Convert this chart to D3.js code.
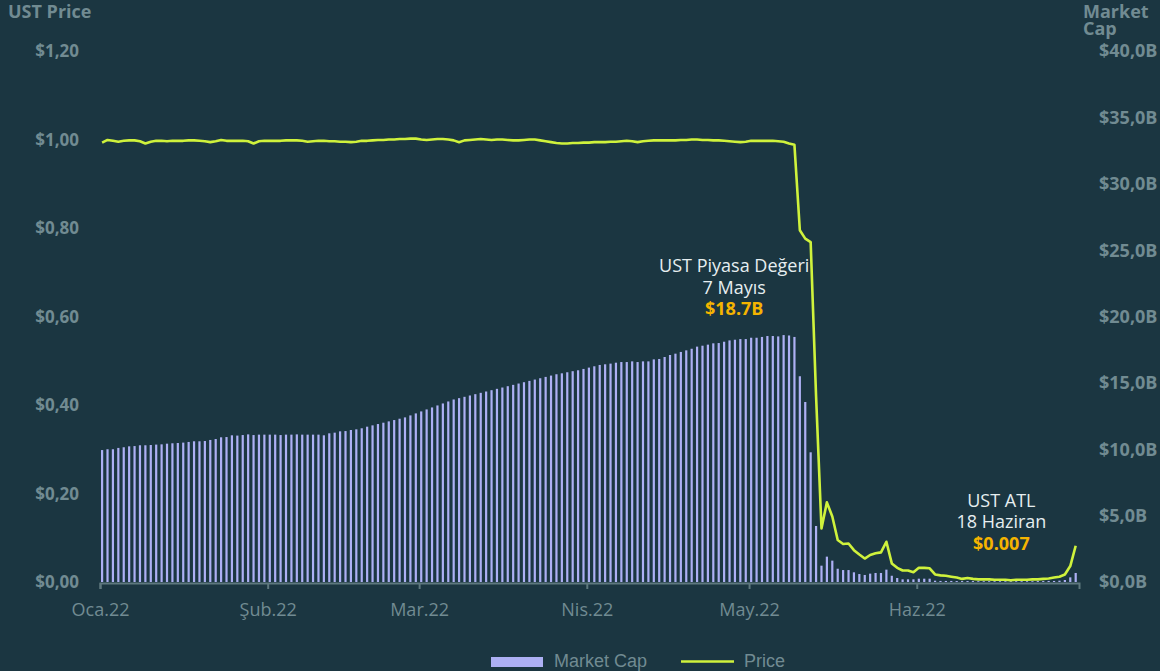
<!DOCTYPE html>
<html>
<head>
<meta charset="utf-8">
<script src="https://cdn.jsdelivr.net/npm/d3@7"></script>
<style>
  html, body { margin: 0; padding: 0; background: #1b3641; }
  svg { display: block; }
</style>
</head>
<body>
<div id="chart"></div>
<script>
// UST price (left axis) and market cap in $B (right axis), one value per day from 1 Jan 2022
var priceValues = [
  0.993, 0.999, 0.997, 0.995, 0.997, 0.998, 0.998, 0.996, 0.991, 0.995,
  0.997, 0.997, 0.996, 0.997, 0.997, 0.997, 0.998, 0.998, 0.997, 0.996,
  0.994, 0.996, 0.999, 0.997, 0.997, 0.997, 0.997, 0.996, 0.991, 0.996,
  0.997, 0.997, 0.997, 0.997, 0.998, 0.998, 0.998, 0.997, 0.995, 0.996,
  0.997, 0.997, 0.996, 0.996, 0.995, 0.995, 0.994, 0.995, 0.997, 0.997,
  0.998, 0.999, 0.999, 1.000, 1.000, 1.001, 1.001, 1.002, 1.002, 1.000,
  0.999, 1.000, 1.001, 1.001, 1.000, 0.998, 0.994, 0.998, 0.999, 1.000,
  1.001, 1.000, 0.999, 1.000, 1.000, 0.999, 0.998, 0.998, 0.999, 1.000,
  1.000, 0.998, 0.996, 0.994, 0.992, 0.991, 0.991, 0.992, 0.992, 0.993,
  0.993, 0.994, 0.994, 0.994, 0.995, 0.995, 0.996, 0.997, 0.996, 0.994,
  0.996, 0.997, 0.998, 0.998, 0.998, 0.998, 0.998, 0.999, 0.999, 1.000,
  1.000, 0.999, 0.999, 0.998, 0.998, 0.997, 0.996, 0.995, 0.994, 0.995,
  0.997, 0.997, 0.997, 0.997, 0.997, 0.996, 0.995, 0.991, 0.988, 0.795,
  0.776, 0.768, 0.420, 0.121, 0.180, 0.148, 0.095, 0.086, 0.087, 0.072,
  0.062, 0.053, 0.061, 0.065, 0.067, 0.091, 0.042, 0.032, 0.026, 0.026,
  0.022, 0.032, 0.032, 0.031, 0.017, 0.015, 0.014, 0.012, 0.010, 0.007,
  0.009, 0.007, 0.006, 0.006, 0.006, 0.005, 0.005, 0.005, 0.004, 0.005,
  0.005, 0.005, 0.006, 0.006, 0.007, 0.008, 0.010, 0.012, 0.017, 0.036,
  0.082
];

var marketCapValues = [
  9.94, 10.0, 10.0, 10.1, 10.15, 10.22, 10.24, 10.3, 10.3, 10.32,
  10.35, 10.37, 10.42, 10.45, 10.47, 10.5, 10.55, 10.6, 10.6, 10.62,
  10.7, 10.77, 10.9, 10.92, 11.05, 11.03, 11.07, 11.12, 11.07, 11.1,
  11.1, 11.1, 11.1, 11.07, 11.1, 11.1, 11.12, 11.1, 11.1, 11.1,
  11.1, 11.05, 11.2, 11.25, 11.35, 11.37, 11.45, 11.5, 11.58, 11.7,
  11.8, 11.9, 12.0, 12.1, 12.2, 12.3, 12.4, 12.55, 12.7, 12.85,
  13.0, 13.15, 13.3, 13.45, 13.6, 13.75, 13.85, 13.95, 14.05, 14.15,
  14.25, 14.35, 14.45, 14.55, 14.65, 14.75, 14.85, 14.95, 15.05, 15.15,
  15.25, 15.35, 15.45, 15.55, 15.65, 15.72, 15.8, 15.88, 15.95, 16.05,
  16.15, 16.25, 16.35, 16.4, 16.45, 16.52, 16.57, 16.57, 16.62, 16.57,
  16.62, 16.62, 16.77, 16.8, 16.95, 17.1, 17.2, 17.33, 17.45, 17.57,
  17.73, 17.8, 17.88, 17.98, 18.0, 18.1, 18.2, 18.25, 18.3, 18.3,
  18.4, 18.4, 18.46, 18.53, 18.53, 18.5, 18.6, 18.57, 18.46, 15.5,
  13.56, 9.77, 4.22, 1.23, 1.91, 1.61, 1.0, 0.9, 0.9, 0.73,
  0.6, 0.53, 0.63, 0.68, 0.68, 0.93, 0.47, 0.3, 0.2, 0.2,
  0.2, 0.25, 0.25, 0.25, 0.1, 0.08, 0.08, 0.08, 0.07, 0.07,
  0.07, 0.07, 0.06, 0.06, 0.06, 0.06, 0.06, 0.06, 0.06, 0.06,
  0.06, 0.06, 0.06, 0.07, 0.07, 0.08, 0.08, 0.1, 0.15, 0.35,
  0.68
];

var priceTicks = [0, 0.2, 0.4, 0.6, 0.8, 1.0, 1.2];
var capTicks = [0, 5, 10, 15, 20, 25, 30, 35, 40];
var monthTicks = [
  new Date(2022, 0, 1), new Date(2022, 1, 1), new Date(2022, 2, 1),
  new Date(2022, 3, 1), new Date(2022, 4, 1), new Date(2022, 5, 1)
];

var peakAnnotation = ["UST Piyasa Değeri", "7 Mayıs", "$18.7B"];
var atlAnnotation = ["UST ATL", "18 Haziran", "$0.007"];
var peakDate = new Date(2022, 4, 7);
var atlDate = new Date(2022, 5, 18);

var days = d3.timeDay.range(new Date(2022, 0, 1), new Date(2022, 6, 1));
var data = days.map(function (d, i) {
  return { date: d, price: priceValues[i], cap: marketCapValues[i] };
});

var width = 1160, height = 671;
var bg = "#1b3641",
    labelColor = "#718b92",
    axisColor = "#5e787e",
    barColor = "#adb0f4",
    lineColor = "#cff23c",
    noteColor = "#e6eef0",
    noteHighlight = "#f5b400";

var svg = d3.select("#chart").append("svg")
  .attr("width", width)
  .attr("height", height);

svg.append("rect").attr("width", width).attr("height", height).attr("fill", bg);

var x = d3.scaleTime()
  .domain([new Date(2022, 0, 1), new Date(2022, 6, 1)])
  .range([100, 1079]);
var yPrice = d3.scaleLinear().domain([0, 1.2]).range([582, 51]);
var yCap = d3.scaleLinear().domain([0, 40]).range([582, 51]);

// mid-day position for each daily mark
function xc(d) { return x(d3.timeHour.offset(d, 12)); }

var trLocale = d3.formatLocale({ decimal: ",", thousands: ".", grouping: [3], currency: ["$", ""] });
var priceFmt = trLocale.format("$.2f");
var capFmt = trLocale.format(".1f");
var trTime = d3.timeFormatLocale({
  dateTime: "%A, %e %B %Y %X", date: "%d.%m.%Y", time: "%H:%M:%S",
  periods: ["AM", "PM"],
  days: ["Pazar", "Pazartesi", "Salı", "Çarşamba", "Perşembe", "Cuma", "Cumartesi"],
  shortDays: ["Paz", "Pzt", "Sal", "Çar", "Per", "Cum", "Cmt"],
  months: ["Ocak", "Şubat", "Mart", "Nisan", "Mayıs", "Haziran", "Temmuz", "Ağustos", "Eylül", "Ekim", "Kasım", "Aralık"],
  shortMonths: ["Oca", "Şub", "Mar", "Nis", "May", "Haz", "Tem", "Ağu", "Eyl", "Eki", "Kas", "Ara"]
});
var monthFmt = trTime.format("%b.%y");

// bars
var barW = 2.2;
svg.append("g").selectAll("rect")
  .data(data)
  .join("rect")
  .attr("x", function (d) { return xc(d.date) - barW / 2 - 0.6; })
  .attr("y", function (d) { return yCap(d.cap); })
  .attr("width", barW)
  .attr("height", function (d) { return yCap(0) - yCap(d.cap); })
  .attr("fill", barColor);

// x axis
var xAxis = svg.append("g")
  .attr("transform", "translate(0,583)")
  .call(d3.axisBottom(x).tickValues(monthTicks).tickSize(6).tickSizeOuter(6).tickFormat(monthFmt));
xAxis.select(".domain").attr("stroke", axisColor).attr("stroke-width", 2);
xAxis.selectAll(".tick line").attr("stroke", axisColor).attr("stroke-width", 2);
xAxis.selectAll(".tick text")
  .attr("y", 0)
  .attr("dy", null)
  .attr("transform", "translate(0,33)")
  .attr("fill", labelColor)
  .style("font-family", "'Open Sans', sans-serif")
  .style("font-size", "18px");

// price line
var line = d3.line()
  .x(function (d) { return xc(d.date) - 0.6; })
  .y(function (d) { return yPrice(d.price); });
svg.append("path")
  .datum(data)
  .attr("d", line)
  .attr("fill", "none")
  .attr("stroke", lineColor)
  .attr("stroke-width", 2.6)
  .attr("stroke-linejoin", "round");

// y tick labels
svg.append("g").selectAll("text")
  .data(priceTicks)
  .join("text")
  .attr("x", 79)
  .attr("y", function (d) { return yPrice(d); })
  .attr("dy", "0.36em")
  .attr("text-anchor", "end")
  .attr("fill", labelColor)
  .style("font-family", "'Open Sans', sans-serif")
  .style("font-weight", "bold")
  .style("font-size", "17px")
  .text(function (d) { return priceFmt(d); });

svg.append("g").selectAll("text")
  .data(capTicks)
  .join("text")
  .attr("x", 1099)
  .attr("y", function (d) { return yCap(d); })
  .attr("dy", "0.36em")
  .attr("fill", labelColor)
  .style("font-family", "'Open Sans', sans-serif")
  .style("font-weight", "bold")
  .style("font-size", "18px")
  .text(function (d) { return "$" + capFmt(d) + "B"; });

// axis titles
var titleStyle = function (sel) {
  sel.attr("fill", labelColor)
    .style("font-family", "'Open Sans', sans-serif")
    .style("font-weight", "bold")
    .style("font-size", "18px");
};
svg.append("text").attr("x", 8).attr("y", 18).text("UST Price").call(titleStyle);
svg.append("text").attr("x", 1083).attr("y", 18).text("Market").call(titleStyle);
svg.append("text").attr("x", 1083).attr("y", 35).text("Cap").call(titleStyle);

// annotations
function annotate(lines, cx, top) {
  var g = svg.append("g");
  lines.forEach(function (t, i) {
    g.append("text")
      .attr("x", cx)
      .attr("y", top + i * 21.5)
      .attr("text-anchor", "middle")
      .attr("fill", i === 2 ? noteHighlight : noteColor)
      .style("font-family", "'Open Sans', sans-serif")
      .style("font-weight", i === 2 ? "bold" : "normal")
      .style("font-size", "18px")
      .text(t);
  });
}
annotate(peakAnnotation, xc(peakDate) - 50, yCap(18.6) - 63);
annotate(atlAnnotation, xc(atlDate) - 10, yPrice(0.007) - 72);

// legend
var legend = svg.append("g").attr("transform", "translate(491,657)");
legend.append("rect").attr("width", 52).attr("height", 10).attr("fill", barColor);
legend.append("text").attr("x", 63).attr("y", 10)
  .attr("fill", labelColor)
  .style("font-family", "'Liberation Sans', Arial, sans-serif")
  .style("font-size", "18px")
  .text("Market Cap");
legend.append("line").attr("x1", 190).attr("x2", 243).attr("y1", 4.5).attr("y2", 4.5)
  .attr("stroke", lineColor).attr("stroke-width", 2.6);
legend.append("text").attr("x", 253).attr("y", 10)
  .attr("fill", labelColor)
  .style("font-family", "'Liberation Sans', Arial, sans-serif")
  .style("font-size", "18px")
  .text("Price");
</script>
</body>
</html>
